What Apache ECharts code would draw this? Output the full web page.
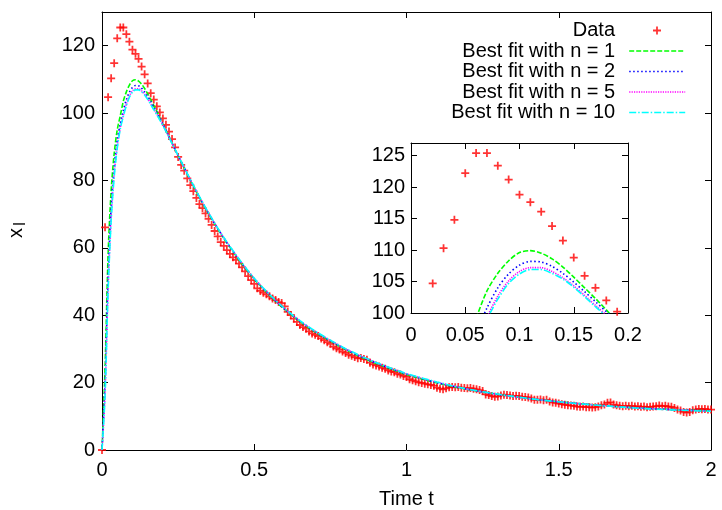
<!DOCTYPE html>
<html><head><meta charset="utf-8">
<script src="https://cdn.jsdelivr.net/npm/echarts@6/dist/echarts.min.js"></script>
<style>html,body{margin:0;padding:0;background:#fff}#c{width:722px;height:510px}</style>
</head><body><div id="c"></div>
<script>
// ---------- data ----------
const dataStep = 0.01;           // sampling interval of the data (t = index * step)
const dataValues = [
  0, 66.1, 104.7, 110.3, 114.8, 122.2, 125.4, 125.4, 123.4, 121.2,
  118.8, 117.6, 116.1, 113.8, 111.5, 108.8, 105.9, 104.0, 102.0, 100.2,
  98.4, 96.5, 94.5, 92.3, 89.8, 87.0, 84.6, 82.9, 80.6, 78.6,
  76.8, 74.8, 73.0, 71.8, 70.2, 68.6, 66.8, 65.0, 63.4, 61.7,
  60.6, 59.3, 58.2, 57.2, 56.4, 55.3, 54.2, 53.0, 51.6, 50.4,
  49.3, 48.0, 47.2, 46.7, 46.2, 45.6, 45.0, 44.5, 43.9, 43.6,
  42.6, 41.0, 40.0, 39.0, 38.0, 37.1, 36.5, 36.0, 35.2, 34.6,
  34.2, 33.8, 33.1, 32.6, 32.0, 31.5, 30.7, 30.2, 29.8, 29.2,
  28.8, 28.3, 28.0, 27.6, 27.2, 27.3, 27.0, 26.8, 25.9, 25.4,
  25.1, 24.8, 24.4, 24.1, 23.6, 23.3, 23.1, 22.6, 22.4, 22.0,
  21.7, 21.0, 20.7, 20.4, 20.1, 19.9, 19.7, 19.5, 19.3, 19.1,
  18.5, 18.2, 18.0, 18.3, 18.6, 18.7, 18.6, 18.7, 18.5, 18.4,
  18.3, 18.4, 18.2, 18.0, 17.8, 17.5, 16.5, 16.3, 16.0, 15.8,
  15.9, 16.2, 16.4, 16.3, 16.2, 16.0, 16.1, 16.0, 15.8, 15.7,
  15.6, 15.3, 14.9, 14.9, 15.0, 14.8, 14.9, 14.4, 14.1, 14.0,
  13.8, 13.6, 13.4, 13.3, 13.2, 13.1, 12.9, 12.8, 12.9, 12.7,
  12.7, 12.6, 12.7, 12.9, 13.3, 13.5, 14.0, 14.1, 13.5, 13.3,
  13.1, 13.0, 13.1, 13.0, 13.1, 12.9, 13.0, 12.8, 12.9, 12.7,
  12.8, 12.9, 13.0, 13.2, 13.0, 13.1, 12.9, 12.8, 12.5, 12.0,
  11.7, 11.3, 11.1, 11.3, 11.8, 12.0, 12.2, 12.1, 12.2, 12.0,
  12.0
];
const fitTimes = [0, .01, .02, .03, .04, .05, .06, .07, .08, .09, .10, .11, .12, .13, .14, .15, .16, .17, .18, .19, .20,
  .22, .25, .30, .35, .40, .45, .50, .55, .60, .65, .70, .75, .80, .85, .90, .95, 1.0,
  1.1, 1.2, 1.3, 1.4, 1.5, 1.6, 1.7, 1.8, 1.9, 2.0];
const fitN1 = [0, 24, 58, 77, 88, 95, 99.2, 103.5, 106.3, 108.3, 109.6, 109.9, 109.5, 108.6, 107.3, 105.7, 104.0, 102.3, 100.5, 98.6, 96.7,
  93.0, 87.3, 78.3, 70.1, 62.8, 56.4, 50.7, 45.9, 41.7, 38.1, 35.0, 32.3, 29.8, 27.6, 25.7, 24.0, 22.4,
  19.9, 18.0, 16.5, 15.3, 14.3, 13.5, 12.8, 12.3, 11.9, 11.6];
const fitN2 = [0, 20, 52, 72, 84, 92, 96.8, 100.8, 104.0, 106.2, 107.6, 108.2, 108.1, 107.4, 106.3, 104.9, 103.4, 101.8, 100.2, 98.5, 96.8,
  93.0, 87.4, 78.4, 70.2, 62.9, 56.5, 50.8, 46.0, 41.8, 38.2, 35.1, 32.4, 29.9, 27.7, 25.8, 24.1, 22.5,
  20.0, 18.0, 16.5, 15.3, 14.3, 13.5, 12.8, 12.3, 11.9, 11.6];
const fitN5 = [0, 17, 48, 69, 82, 90, 95.6, 99.3, 102.7, 105.1, 106.6, 107.2, 107.2, 106.6, 105.6, 104.3, 102.8, 101.2, 99.7, 98.1, 96.5,
  92.9, 87.4, 78.5, 70.3, 63.0, 56.6, 50.9, 46.1, 41.9, 38.3, 35.2, 32.5, 30.0, 27.8, 25.9, 24.2, 22.6,
  20.1, 18.1, 16.5, 15.3, 14.3, 13.5, 12.8, 12.3, 11.9, 11.5];
const fitN10 = [0, 16, 47, 68, 81, 89.5, 95.3, 99.0, 102.2, 104.7, 106.2, 106.9, 106.9, 106.3, 105.4, 104.1, 102.6, 101.0, 99.5, 97.9, 96.3,
  92.8, 87.4, 78.6, 70.4, 63.1, 56.7, 51.0, 46.2, 42.0, 38.4, 35.3, 32.6, 30.1, 27.9, 26.0, 24.3, 22.7,
  20.2, 18.1, 16.6, 15.3, 14.3, 13.5, 12.8, 12.2, 11.8, 11.5];
const seriesNames = ['Data', 'Best fit with n = 1', 'Best fit with n = 2', 'Best fit with n = 5', 'Best fit with n = 10'];
const fits = [fitN1, fitN2, fitN5, fitN10];
const xTitle = 'Time t';
const yTitleMain = 'x';
const yTitleSub = 'l';

// ---------- styling ----------
const FONT = '"Liberation Sans", Arial, sans-serif';
const FS = 20;
const fitColors = ['#00ff00', '#0000ff', '#ff00ff', '#00ffff'];
const fitDash = [[5, 2], [1.5, 2.5], [1.2, 1.2], [7, 2, 1.5, 2]];
const plusPath = 'path://M3.9,0H6.1V3.9H10V6.1H6.1V10H3.9V6.1H0V3.9H3.9Z';

const dataPairs = dataValues.map((v, i) => [+(i * dataStep).toFixed(2), v]);
const fitPairs = fits.map(f => fitTimes.map((t, i) => [t, f[i]]));

function axisCommon(extra, labelMargin, hideMax) {
  return Object.assign({
    type: 'value',
    axisLine: { show: true, onZero: false, lineStyle: { color: '#000', width: 1 } },
    axisTick: { show: true, inside: true, length: 6, lineStyle: { color: '#000', width: 1 } },
    splitLine: { show: false },
    axisLabel: { color: '#000', fontSize: FS, fontFamily: FONT, margin: labelMargin,
      showMaxLabel: hideMax ? false : true, showMinLabel: true }
  }, extra);
}
function mirror(extra) {
  const a = axisCommon(extra, 8, false);
  a.axisLabel = { show: false };
  return a;
}

const mainX = { min: 0, max: 2, interval: 0.5 };
const mainY = { min: 0, max: 130, interval: 20 };
const insetX = { min: 0, max: 0.2, interval: 0.05 };
const insetY = { min: 100, max: 127, interval: 5 };

const series = [];
[0, 1].forEach(g => {
  series.push({
    name: seriesNames[0], type: 'scatter', xAxisIndex: g * 2, yAxisIndex: g * 2,
    data: dataPairs, symbol: plusPath, symbolSize: 8, clip: true,
    itemStyle: { color: '#ff0000' }, z: 2
  });
  fits.forEach((f, k) => {
    series.push({
      name: seriesNames[k + 1], type: 'line', xAxisIndex: g * 2, yAxisIndex: g * 2,
      data: fitPairs[k], symbol: 'none', showSymbol: false, smooth: 0.3, clip: true,
      lineStyle: { color: fitColors[k], width: 1.6, type: fitDash[k], cap: 'butt' },
      itemStyle: { color: fitColors[k] }, z: 3
    });
  });
});

const rowCenters = [30.5, 51, 71.5, 92, 112.5];
const legends = seriesNames.map((n, i) => i === 0 ? ({
  data: [n], right: 61, top: rowCenters[i] - 10, orient: 'horizontal', align: 'right',
  itemWidth: 8, itemHeight: 8, itemGap: 0, padding: 0, selectedMode: false,
  textStyle: { fontSize: FS, fontFamily: FONT, color: '#000', lineHeight: 20, padding: [0, 33, 0, 0] }
}) : ({
  data: [n], right: 36, top: rowCenters[i] - 10, orient: 'horizontal', align: 'right',
  itemWidth: 56, itemHeight: 14, itemGap: 0, padding: 0, selectedMode: false,
  itemStyle: { opacity: 0 },
  lineStyle: { color: fitColors[i - 1], width: 1.6, type: fitDash[i - 1], cap: 'butt', opacity: 1 },
  textStyle: { fontSize: FS, fontFamily: FONT, color: '#000', lineHeight: 20, padding: [0, 9, 0, 0] }
}));

const option = {
  animation: false,
  backgroundColor: '#fff',
  grid: [
    { left: 102, top: 12, right: 11, bottom: 60, outerBoundsMode: 'none', containLabel: false },
    { left: 411, top: 143, width: 217, height: 170, outerBoundsMode: 'none', containLabel: false }
  ],
  xAxis: [
    axisCommon(Object.assign({ gridIndex: 0, position: 'bottom', name: xTitle, nameLocation: 'middle', nameGap: 39,
      nameTextStyle: { fontSize: FS, fontFamily: FONT, color: '#000' } }, mainX), 10, false),
    mirror(Object.assign({ gridIndex: 0, position: 'top' }, mainX)),
    axisCommon(Object.assign({ gridIndex: 1, position: 'bottom' }, insetX), 12, false),
    mirror(Object.assign({ gridIndex: 1, position: 'top' }, insetX))
  ],
  yAxis: [
    axisCommon(Object.assign({ gridIndex: 0, position: 'left' }, mainY), 7, true),
    mirror(Object.assign({ gridIndex: 0, position: 'right' }, mainY)),
    axisCommon(Object.assign({ gridIndex: 1, position: 'left' }, insetY), 6, true),
    mirror(Object.assign({ gridIndex: 1, position: 'right' }, insetY))
  ],
  legend: legends,
  graphic: [
    { type: 'text', x: 16, y: 233, rotation: Math.PI / 2,
      style: { text: yTitleMain, font: FS + 'px ' + FONT, fill: '#000', align: 'center', verticalAlign: 'middle' } },
    { type: 'text', x: 20.5, y: 224, rotation: Math.PI / 2,
      style: { text: yTitleSub, font: '16px ' + FONT, fill: '#000', align: 'center', verticalAlign: 'middle' } }
  ],
  series: series
};
const chart = echarts.init(document.getElementById('c'), null, { renderer: 'canvas' });
chart.setOption(option);
</script></body></html>
